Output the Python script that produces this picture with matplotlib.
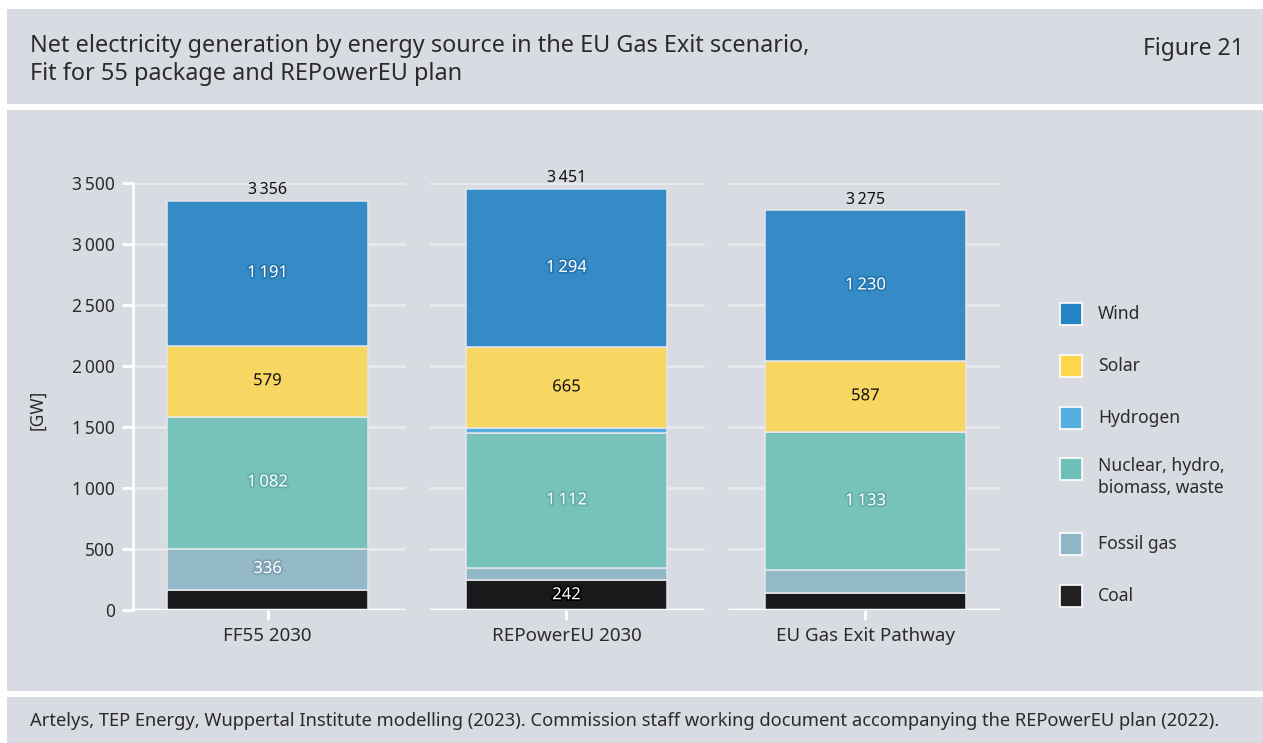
import matplotlib
matplotlib.use("Agg")
import matplotlib.pyplot as plt
import matplotlib.patheffects as pe
from matplotlib.patches import Rectangle

plt.rcParams['font.family'] = ['Noto Sans', 'DejaVu Sans']

# ---------------- data ----------------
categories = ["FF55 2030", "REPowerEU 2030", "EU Gas Exit Pathway"]
coal = [168, 242, 140]
fossil_gas = [336, 100, 185]
nuclear = [1082, 1112, 1133]
hydrogen = [0, 38, 0]
solar = [579, 665, 587]
wind = [1191, 1294, 1230]
totals = [3356, 3451, 3275]
yticks = [0, 500, 1000, 1500, 2000, 2500, 3000, 3500]

series_names = ["Coal", "Fossil gas", "Nuclear, hydro,\nbiomass, waste", "Hydrogen", "Solar", "Wind"]
series_values = [coal, fossil_gas, nuclear, hydrogen, solar, wind]

title = "Net electricity generation by energy source in the EU Gas Exit scenario,\nFit for 55 package and REPowerEU plan"
fig_label = "Figure 21"
source_text = ("Artelys, TEP Energy, Wuppertal Institute modelling (2023). Commission staff working "
               "document accompanying the REPowerEU plan (2022).")

# ---------------- styles ----------------
bar_colors = ["#19191b", "#93b8c7", "#77c2bb", "#55aee0", "#f8d662", "#358bc5"]
legend_colors = ["#231f20", "#8fb6c4", "#6dc0b7", "#55b0e2", "#ffd54a", "#2383c4"]
label_colors = ["white", "white", "white", "white", "#111111", "white"]
halo_colors = ["#000000", "#7fa3b3", "#62ada6", "#3b97c9", "#f8d662", "#2676ae"]
BG = "#d9dbe2"
TXT = "#2b2b2f"

W, H = 1263, 743
fig = plt.figure(figsize=(W / 100, H / 100), dpi=100, facecolor="white")


def panel(x0, y0, x1, y1):
    fig.add_artist(Rectangle((x0 / W, 1 - y1 / H), (x1 - x0) / W, (y1 - y0) / H,
                             transform=fig.transFigure, facecolor=BG, edgecolor="none", zorder=-10))


panel(7, 9, W, 104)
panel(7, 110, W, 691)
panel(7, 697, W, H)

fig.text(30 / W, 1 - 60 / H, title, ha="left", va="center", fontsize=16.9, color=TXT, linespacing=1.2)
fig.text(1244 / W, 1 - 49 / H, fig_label, ha="right", va="center", fontsize=16.5, color=TXT)
fig.text(30 / W, 1 - 721 / H, source_text, ha="left", va="center", fontsize=13.2, color=TXT)

# ---------------- axes ----------------
ax = fig.add_axes([133 / W, 133 / H, 867 / W, 427 / H])
ax.patch.set_alpha(0)
x = list(range(len(categories)))
ax.set_xlim(-0.45, len(categories) - 0.55)
ax.set_ylim(0, 3500)

# gridline segments per category
for yv in yticks:
    for xi in x:
        ax.hlines(yv, xi - 0.46, xi + 0.46, color="white" if yv == 0 else "#e9eaed",
                  lw=2.5 if yv == 0 else 2, zorder=0.5 if yv else 3)

bottom = [0] * len(categories)
for vals, col, lcol, hcol in zip(series_values, bar_colors, label_colors, halo_colors):
    ax.bar(x, vals, bottom=bottom, width=0.675, color=col, edgecolor="#e4e6ea", linewidth=1.1, zorder=2)
    for xi, v, b in zip(x, vals, bottom):
        if v >= 200:
            ax.text(xi, b + v / 2, f"{v:,}".replace(",", "\u2009"), ha="center", va="center",
                    fontsize=12, color=lcol, fontweight="semibold", zorder=4,
                    path_effects=[pe.withStroke(linewidth=2.5, foreground=hcol)])
    bottom = [b + v for b, v in zip(bottom, vals)]

for xi, t in zip(x, totals):
    ax.annotate(f"{t:,}".replace(",", "\u2009"), (xi, t), xytext=(0, 2), textcoords="offset points",
                ha="center", va="bottom", fontsize=11.5, color="#111111", fontweight="semibold",
                annotation_clip=False)

ax.set_yticks(yticks)
ax.set_yticklabels([f"{v:,}".replace(",", "\u2009") for v in yticks])
ax.set_xticks(x)
ax.set_xticklabels(categories)
ax.tick_params(axis="y", colors="white", length=8, width=2, labelcolor=TXT, labelsize=12.5, pad=5)
ax.tick_params(axis="x", colors="white", length=7, width=2, labelcolor=TXT, labelsize=13.5, pad=5)
for s in ["top", "right", "bottom"]:
    ax.spines[s].set_visible(False)
ax.spines["left"].set_color("white")
ax.spines["left"].set_linewidth(2)
ax.set_ylabel("[GW]", fontsize=12.5, color=TXT)
ax.yaxis.set_label_coords(-0.1, 0.468)

# ---------------- legend (manual) ----------------
legend_order = [5, 4, 3, 2, 1, 0]
legend_y = [314, 366, 418, 469, 544, 596]
for idx, yc in zip(legend_order, legend_y):
    fig.add_artist(Rectangle((1060 / W, 1 - (yc + 11) / H), 22 / W, 22 / H, transform=fig.transFigure,
                             facecolor=legend_colors[idx], edgecolor="white", linewidth=1.2))
    name = series_names[idx]
    if "\n" in name:
        fig.text(1098 / W, 1 - (yc - 12) / H, name, ha="left", va="top", fontsize=12.6,
                 color=TXT, linespacing=1.3)
    else:
        fig.text(1098 / W, 1 - yc / H, name, ha="left", va="center", fontsize=12.6, color=TXT)

fig.savefig("out.png", dpi=100, facecolor="white")
